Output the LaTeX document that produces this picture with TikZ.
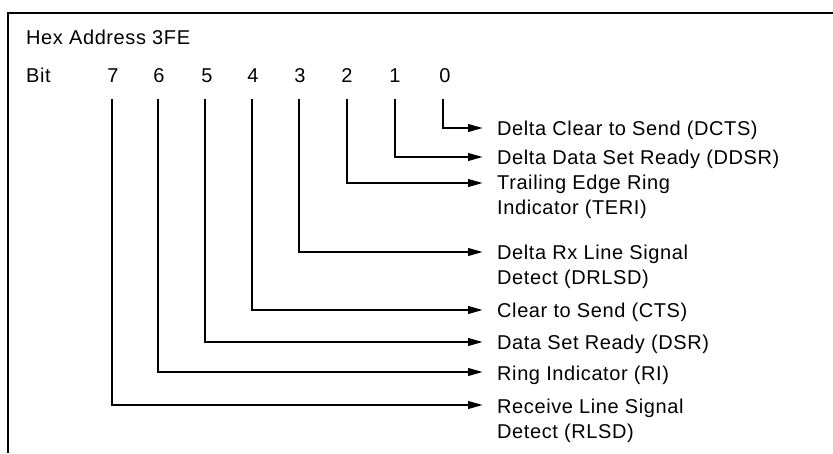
\documentclass[tikz,border=0pt]{standalone}
\usepackage{fontspec}
\setmainfont{Liberation Sans}[LetterSpace=3]
\usetikzlibrary{arrows.meta}
\begin{document}
\begin{tikzpicture}[x=1pt,y=-1pt,
  frame/.style={line width=2.2pt},
  conn/.style={line width=2.4pt,-{Triangle[length=15pt,width=7.5pt]}},
  txt/.style={inner sep=0pt,anchor=base west,font=\fontsize{20}{25.5}\selectfont,align=left},
  digit/.style={inner sep=0pt,anchor=base,font=\fontsize{20}{25.5}\selectfont}]
\useasboundingbox (0,0) rectangle (833,453);
\draw[frame] (8,453) -- (8,13) -- (833,13);
\node[txt] (hex) at (26,44) {Hex Address 3FE};
\node[txt] (bit) at (26,82) {Bit};
\foreach \b/\dx/\lx/\ly in {7/113/112/405,6/159/158/372,5/207/205/342,4/253/252/310,3/300/299/252,2/347/347/183,1/395/395/157,0/445/443/128}{
  \node[digit] (n\b) at (\dx,82) {\b};
  \coordinate (t\b) at (\lx,99);
  \coordinate (e\b) at (483,\ly);
  \draw[conn] (t\b) |- (e\b);
}
\node[txt] (l0) at (497,135.5) {Delta Clear to Send (DCTS)};
\node[txt] (l1) at (497,164.5) {Delta Data Set Ready (DDSR)};
\node[txt] (l2) at (497,214.5) {Trailing Edge Ring\\Indicator (TERI)};
\node[txt] (l3) at (497,284.5) {Delta Rx Line Signal\\Detect (DRLSD)};
\node[txt] (l4) at (497,317.5) {Clear to Send (CTS)};
\node[txt] (l5) at (497,349.5) {Data Set Ready (DSR)};
\node[txt] (l6) at (497,380) {Ring Indicator (RI)};
\node[txt] (l7) at (497,438.5) {Receive Line Signal\\Detect (RLSD)};
\end{tikzpicture}
\end{document}
